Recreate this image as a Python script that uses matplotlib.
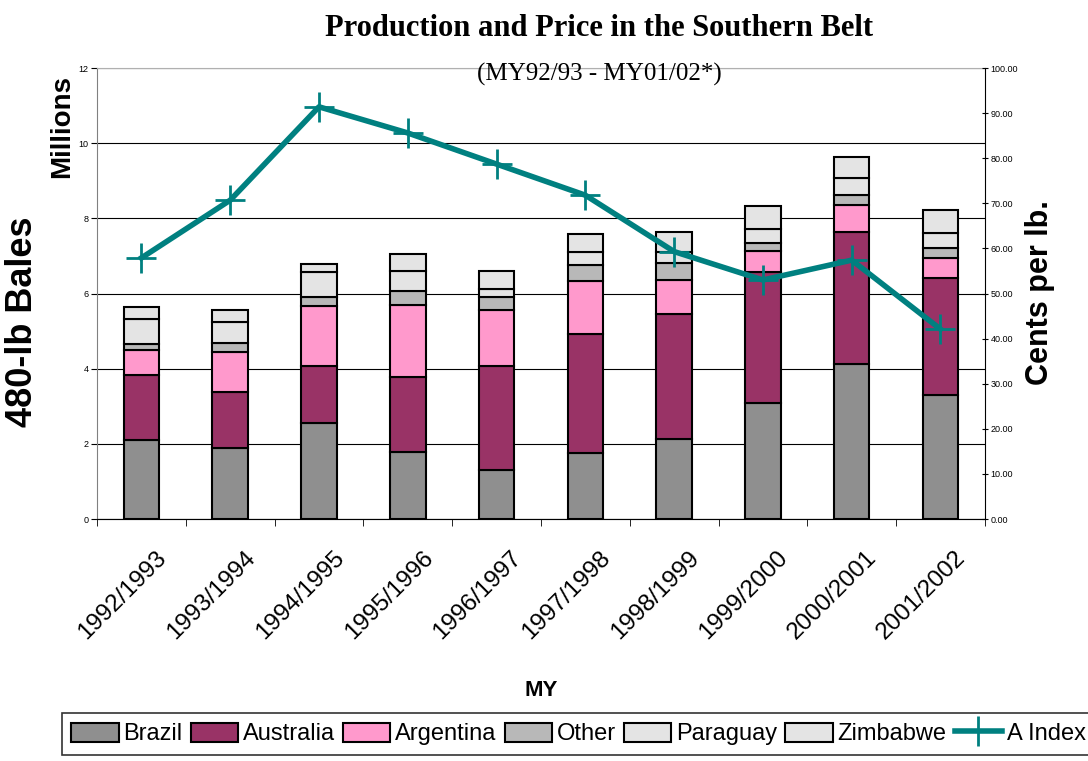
import numpy as np
import matplotlib.pyplot as plt
from matplotlib.transforms import ScaledTranslation

# marketing years
years = ['1992/1993', '1993/1994', '1994/1995', '1995/1996', '1996/1997',
         '1997/1998', '1998/1999', '1999/2000', '2000/2001', '2001/2002']

# production, millions of 480-lb bales
brazil    = [2.10, 1.88, 2.55, 1.79, 1.30, 1.76, 2.12, 3.10, 4.12, 3.30]
australia = [1.73, 1.49, 1.52, 1.98, 2.78, 3.17, 3.33, 3.48, 3.51, 3.10]
argentina = [0.67, 1.08, 1.61, 1.92, 1.49, 1.39, 0.90, 0.55, 0.73, 0.55]
other     = [0.17, 0.24, 0.23, 0.39, 0.34, 0.43, 0.46, 0.22, 0.26, 0.25]
paraguay  = [0.66, 0.55, 0.66, 0.52, 0.21, 0.35, 0.30, 0.38, 0.45, 0.42]
zimbabwe  = [0.32, 0.31, 0.21, 0.46, 0.48, 0.48, 0.54, 0.59, 0.55, 0.59]

# A Index, cents per lb
a_index = [57.9, 70.7, 91.4, 85.6, 78.7, 71.8, 59.3, 53.0, 57.4, 42.1]

series = [('Brazil', brazil, '#8f8f8f'),
          ('Australia', australia, '#993366'),
          ('Argentina', argentina, '#ff99cc'),
          ('Other', other, '#b8b8b8'),
          ('Paraguay', paraguay, '#e4e4e4'),
          ('Zimbabwe', zimbabwe, '#e4e4e4')]

plt.rcParams['font.family'] = ['Liberation Sans', 'DejaVu Sans']

fig = plt.figure(figsize=(10.88, 7.61), dpi=100)
ax = fig.add_axes([0.0892, 0.318, 0.816, 0.5926])

x = np.arange(len(years))
bottom = np.zeros(len(years))
handles = []
for name, vals, col in series:
    b = ax.bar(x, vals, 0.4, bottom=bottom, color=col, edgecolor='black',
               linewidth=1.5, label=name, zorder=3)
    handles.append(b)
    bottom += np.array(vals)

ax.set_xlim(-0.5, len(years) - 0.5)
ax.set_ylim(0, 12)
ax.set_yticks(range(0, 13, 2))
ax.tick_params(axis='y', labelsize=6.5, length=4, direction='out', pad=2)
ax.yaxis.grid(True, color='black', linewidth=0.8, zorder=0)
ax.set_xticks(x)
ax.set_xticklabels(years, rotation=45, ha='right', rotation_mode='anchor',
                   fontsize=17.5)
ax.tick_params(axis='x', length=0, pad=20)
shift = ScaledTranslation(14 / 100, 0, fig.dpi_scale_trans)
for lab in ax.get_xticklabels():
    lab.set_transform(lab.get_transform() + shift)
ax.set_xticks(np.arange(-0.5, len(years), 1), minor=True)
ax.tick_params(axis='x', which='minor', length=5)
ax.spines['top'].set_color('#b0b0b0')
ax.spines['left'].set_color('#808080')
ax.spines['bottom'].set_color('#808080')
ax.spines['right'].set_visible(False)

ax2 = ax.twinx()
ax2.set_ylim(0, 100)
ax2.set_yticks(range(0, 101, 10))
ax2.yaxis.set_major_formatter(plt.FormatStrFormatter('%.2f'))
ax2.tick_params(axis='y', labelsize=6.5, length=4, direction='inout', pad=2)
line, = ax2.plot(x, a_index, color='#008080', linewidth=4, marker='+',
                 markersize=22, markeredgewidth=2, label='A Index', zorder=5)
ax2.spines['top'].set_visible(False)
ax2.spines['left'].set_visible(False)

fig.text(0.057, 0.834, 'Millions', rotation=90, ha='center', va='center',
         fontsize=20, fontweight='bold')
fig.text(0.021, 0.577, '480-lb Bales', rotation=90, ha='center', va='center',
         fontsize=26, fontweight='bold')
fig.text(0.956, 0.615, 'Cents per lb.', rotation=90, ha='center', va='center',
         fontsize=22, fontweight='bold')
fig.text(0.497, 0.093, 'MY', ha='center', va='center', fontsize=16,
         fontweight='bold')

fig.text(0.551, 0.962, 'Production and Price in the Southern Belt',
         ha='center', va='center', fontsize=22, fontweight='bold',
         family='Liberation Serif')
fig.text(0.551, 0.902, '(MY92/93 - MY01/02*)', ha='center', va='center',
         fontsize=18, family='Liberation Serif')

leg = fig.legend(handles + [line], [s[0] for s in series] + ['A Index'],
                 loc='upper left', bbox_to_anchor=(0.057, 0.063), ncol=7,
                 fontsize=17, frameon=True, fancybox=False, edgecolor='black',
                 handlelength=2.0, handleheight=0.9, columnspacing=0.35,
                 handletextpad=0.2, borderpad=0.4, borderaxespad=0)
leg.get_frame().set_linewidth(1.2)

fig.savefig('out.png', dpi=100)
